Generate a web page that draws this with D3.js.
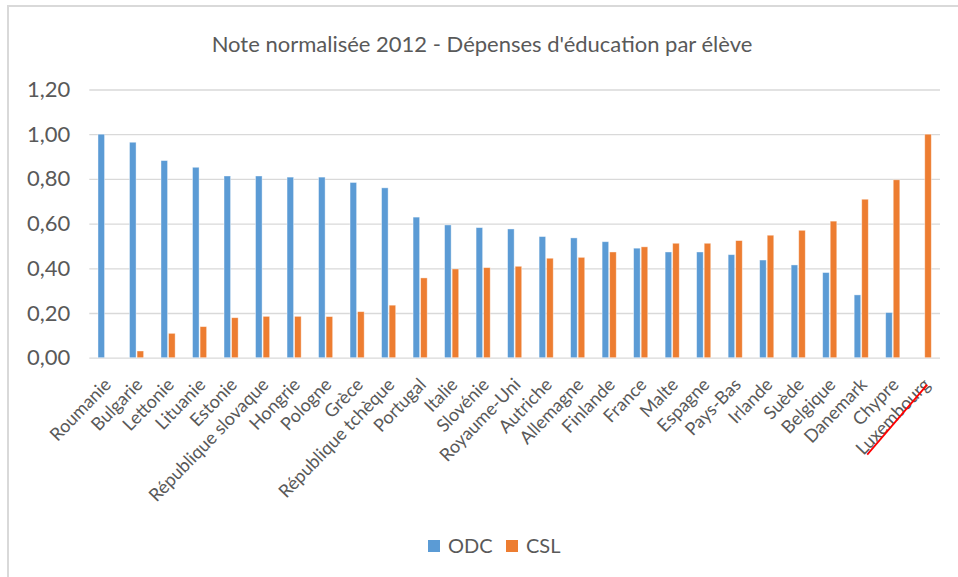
<!DOCTYPE html>
<html>
<head>
<meta charset="utf-8">
<script src="https://cdn.jsdelivr.net/npm/d3@7"></script>
<style>
  body { margin: 0; background: #fff; }
  text { font-family: Lato, "Open Sans", sans-serif; fill: #595959; }
</style>
</head>
<body>
<div id="chart"></div>
<script>
// data
var countries = ["Roumanie", "Bulgarie", "Lettonie", "Lituanie", "Estonie", "République slovaque",
  "Hongrie", "Pologne", "Grèce", "République tchèque", "Portugal", "Italie", "Slovénie",
  "Royaume-Uni", "Autriche", "Allemagne", "Finlande", "France", "Malte", "Espagne",
  "Pays-Bas", "Irlande", "Suède", "Belgique", "Danemark", "Chypre", "Luxembourg"];
var odc = [1.00, 0.964, 0.882, 0.852, 0.813, 0.813, 0.808, 0.808, 0.784, 0.760, 0.629, 0.594, 0.582,
  0.576, 0.542, 0.536, 0.519, 0.490, 0.473, 0.473, 0.461, 0.437, 0.415, 0.381, 0.281, 0.202, 0];
var csl = [0, 0.030, 0.109, 0.139, 0.179, 0.185, 0.185, 0.184, 0.206, 0.235, 0.357, 0.397, 0.403,
  0.409, 0.445, 0.449, 0.473, 0.496, 0.512, 0.512, 0.524, 0.548, 0.570, 0.611, 0.709, 0.796, 1.00];
var seriesNames = ["ODC", "CSL"];
var yTicks = [0, 0.2, 0.4, 0.6, 0.8, 1.0, 1.2];
var title = "Note normalisée 2012 - Dépenses d'éducation par élève";

var W = 958, H = 577;
var margin = {top: 89.5, right: 18, bottom: 219.5, left: 89.3},
width = 940 - margin.left,
height = 357.7 - margin.top;

var colors = {ODC: "#5b9bd5", CSL: "#ed7d31"};

var svgRoot = d3.select("#chart")
    .append("svg")
        .attr("width", W)
        .attr("height", H);

// chart frame (only top and left edges visible in the picture)
svgRoot.append("rect")
    .attr("x", 8).attr("y", 6)
    .attr("width", W + 20).attr("height", H + 20)
    .attr("fill", "none")
    .attr("stroke", "#d9d9d9")
    .attr("stroke-width", 2);

svgRoot.append("text")
    .attr("x", 482).attr("y", 52)
    .attr("text-anchor", "middle")
    .style("font-size", "22px")
    .text(title);

var svg = svgRoot.append("g")
    .attr("transform", "translate(" + margin.left + "," + margin.top + ")");

var data = countries.map(function (c, i) { return {country: c, ODC: odc[i], CSL: csl[i]}; });

// X scales
var x0 = d3.scaleBand()
    .domain(countries)
    .range([0, width])
    .paddingInner(0.52)
    .paddingOuter(0.26);

var x1 = d3.scaleBand()
    .domain(seriesNames)
    .range([0, x0.bandwidth()]);

// Y scale
var y = d3.scaleLinear()
    .domain([0, 1.2])
    .range([height, 0]);

// gridlines + y labels
var yAxis = svg.append("g")
    .call(d3.axisLeft(y).tickValues(yTicks).tickSize(-width)
        .tickFormat(function (d) { return d3.format(".2f")(d).replace(".", ","); }));
yAxis.select(".domain").remove();
yAxis.selectAll(".tick line").attr("stroke", "#d9d9d9").attr("stroke-width", 1.3);
yAxis.selectAll(".tick text")
    .attr("x", -19)
    .style("font-size", "22px")
    .style("font-family", "Lato, 'Open Sans', sans-serif")
    .attr("fill", "#595959");

// bars
svg.append("g")
    .selectAll("g")
    .data(data)
    .enter()
    .append("g")
        .attr("transform", function (d) { return "translate(" + x0(d.country) + ",0)"; })
    .selectAll("rect")
    .data(function (d) { return seriesNames.map(function (k) { return {key: k, value: d[k]}; }); })
    .enter()
    .filter(function (d) { return d.value > 0; })
    .append("rect")
        .attr("x", function (d) { return x1(d.key) + 0.5; })
        .attr("y", function (d) { return y(d.value); })
        .attr("width", x1.bandwidth() - 1)
        .attr("height", function (d) { return height - y(d.value); })
        .attr("fill", function (d) { return colors[d.key]; })
        .attr("stroke", "#ffffff")
        .attr("stroke-opacity", 0.5)
        .attr("stroke-width", 0.8);

// x labels, rotated
var xLab = svg.append("g");
xLab.selectAll("text")
    .data(countries)
    .enter()
    .append("text")
        .attr("transform", function (d) {
            return "translate(" + (x0(d) + x0.bandwidth() / 2 + 7) + "," + (height + 28) + ") rotate(-46)";
        })
        .attr("text-anchor", "end")
        .style("font-size", "18px")
        .text(function (d) { return d; });

// red strike through Luxembourg
var lx = x0("Luxembourg") + x0.bandwidth() / 2;
svg.append("line")
    .attr("x1", lx - 57).attr("y1", height + 97)
    .attr("x2", lx + 3).attr("y2", height + 27)
    .attr("stroke", "#ff0000")
    .attr("stroke-width", 1.8);

// legend
var legend = svgRoot.append("g")
    .attr("transform", "translate(428,540)");
var items = legend.selectAll("g")
    .data(seriesNames)
    .enter()
    .append("g")
        .attr("transform", function (d, i) { return "translate(" + (i * 78) + ",0)"; });
items.append("rect")
    .attr("width", 12).attr("height", 12)
    .attr("fill", function (d) { return colors[d]; });
items.append("text")
    .attr("x", 20).attr("y", 12.5)
    .style("font-size", "20px")
    .text(function (d) { return d; });
</script>
</body>
</html>
